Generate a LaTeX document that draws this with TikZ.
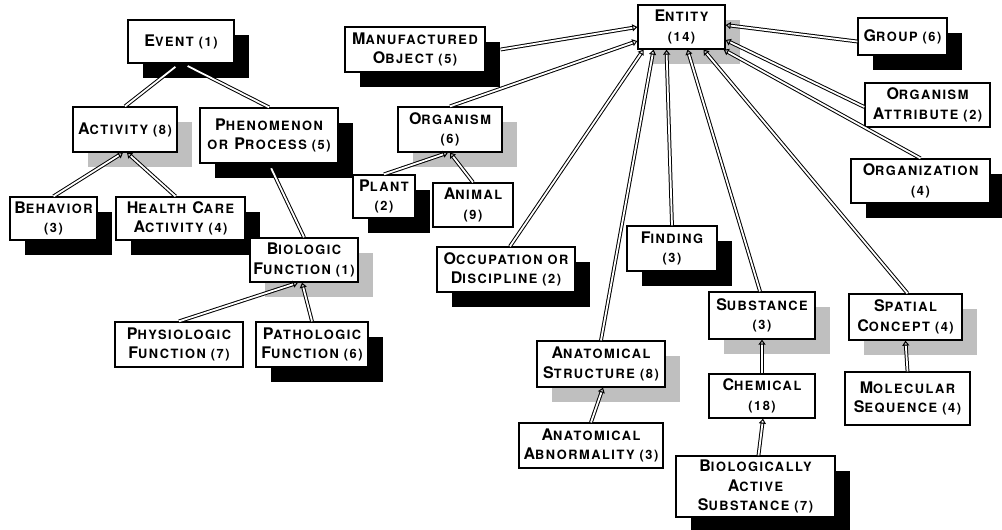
\documentclass[tikz,border=0pt]{standalone}
\usepackage{fontspec}
\setmainfont{TeX Gyre Heros}[LetterSpace=12]
\usetikzlibrary{arrows.meta,shadows}
\newcommand{\sm}[1]{{\fontsize{12.8}{13}\selectfont #1}}

\tikzset{
  box/.style={draw, fill=white, line width=1.3pt, align=center, inner sep=0pt,
    font=\fontsize{16}{19.5}\selectfont\bfseries},
  blackbox/.style={box, general shadow={fill=black, shadow xshift=15pt, shadow yshift=-15pt}},
  graybox/.style={box, general shadow={fill=black!25, shadow xshift=15pt, shadow yshift=-15pt}},
  isa/.style={double, double distance=1.8pt, line width=1pt,
    -{Triangle[open,length=5pt,width=7pt]}}
}

\begin{document}
\begin{tikzpicture}[x=1pt,y=-1pt]
  \useasboundingbox (0,0) rectangle (1002,530);
  % event side
  \node[blackbox, minimum width=106pt, minimum height=43pt] (event) at (181,41.5) {E\sm{VENT (1)}};
  \node[graybox,  minimum width=104pt, minimum height=45pt] (act)   at (125,129.5) {A\sm{CTIVITY (8)}};
  \node[blackbox, minimum width=138pt, minimum height=55pt] (phen)  at (269,135.5) {P\sm{HENOMENON}\\\sm{OR} P\sm{ROCESS (5)}};
  \node[blackbox, minimum width=87pt,  minimum height=43pt] (beh)   at (53.5,218.5) {B\sm{EHAVIOR}\\\sm{(3)}};
  \node[blackbox, minimum width=129pt, minimum height=43pt] (hca)   at (180.5,218.5) {H\sm{EALTH} C\sm{ARE}\\A\sm{CTIVITY (4)}};
  \node[graybox,  minimum width=108pt, minimum height=44pt] (bio)   at (304,260) {B\sm{IOLOGIC}\\F\sm{UNCTION (1)}};
  \node[box,      minimum width=128pt, minimum height=45pt] (phys)  at (179,344.5) {P\sm{HYSIOLOGIC}\\F\sm{UNCTION (7)}};
  \node[blackbox, minimum width=112pt, minimum height=45pt] (path)  at (312,344.5) {P\sm{ATHOLOGIC}\\F\sm{UNCTION (6)}};
  % entity side
  \node[blackbox, minimum width=140pt, minimum height=45pt] (manu)  at (415,49.5) {M\sm{ANUFACTURED}\\O\sm{BJECT (5)}};
  \node[graybox,  minimum width=104pt, minimum height=45pt] (org)   at (450,129.5) {O\sm{RGANISM}\\\sm{(6)}};
  \node[blackbox, minimum width=62pt,  minimum height=43pt] (plant) at (384,196.5) {P\sm{LANT}\\\sm{(2)}};
  \node[box,      minimum width=80pt,  minimum height=44pt] (animal) at (473,205) {A\sm{NIMAL}\\\sm{(9)}};
  \node[graybox,  minimum width=87pt,  minimum height=44pt] (entity) at (681.5,27) {E\sm{NTITY}\\\sm{(14)}};
  \node[blackbox, minimum width=89pt,  minimum height=37pt] (group) at (902.5,36.5) {G\sm{ROUP (6)}};
  \node[box,      minimum width=125pt, minimum height=44pt] (orgattr) at (927.5,105) {O\sm{RGANISM}\\A\sm{TTRIBUTE (2)}};
  \node[blackbox, minimum width=139pt, minimum height=44pt] (orgz)  at (920.5,181) {O\sm{RGANIZATION}\\\sm{(4)}};
  \node[blackbox, minimum width=138pt, minimum height=45pt] (occ)   at (506,269.5) {O\sm{CCUPATION OR}\\D\sm{ISCIPLINE (2)}};
  \node[blackbox, minimum width=90pt,  minimum height=45pt] (find)  at (672,248.5) {F\sm{INDING}\\\sm{(3)}};
  \node[graybox,  minimum width=128pt, minimum height=46pt] (anat)  at (601,364) {A\sm{NATOMICAL}\\S\sm{TRUCTURE (8)}};
  \node[box,      minimum width=144pt, minimum height=45pt] (abn)   at (591,445.5) {A\sm{NATOMICAL}\\A\sm{BNORMALITY (3)}};
  \node[graybox,  minimum width=106pt, minimum height=47pt] (subst) at (762,315.5) {S\sm{UBSTANCE}\\\sm{(3)}};
  \node[box,      minimum width=106pt, minimum height=44pt] (chem)  at (762,396) {C\sm{HEMICAL}\\\sm{(18)}};
  \node[blackbox, minimum width=159pt, minimum height=61pt] (bas)   at (755.5,486.5) {B\sm{IOLOGICALLY}\\A\sm{CTIVE}\\S\sm{UBSTANCE (7)}};
  \node[graybox,  minimum width=113pt, minimum height=46pt] (spat)  at (905.5,317) {S\sm{PATIAL}\\C\sm{ONCEPT (4)}};
  \node[box,      minimum width=125pt, minimum height=53pt] (molec) at (907.5,398.5) {M\sm{OLECULAR}\\S\sm{EQUENCE (4)}};
  %
  \draw[isa] (act.north) -- ([xshift=-1.5pt]event.south);
  \draw[isa] (phen.north) -- ([xshift=2pt]event.south);
  \draw[isa] (beh.north) -- ([xshift=-2pt]act.south);
  \draw[isa] ([xshift=-5pt]hca.north) -- ([xshift=2pt]act.south);
  \draw[isa] (bio.north) -- (phen.south);
  \draw[isa] (phys.north) -- ([xshift=-6pt]bio.south);
  \draw[isa] (path.north) -- ([xshift=-2pt]bio.south);
  \draw[isa] ([xshift=15pt]manu.east) -- (entity.west);
  \draw[isa] (org.north) -- ([yshift=-14pt]entity.west);
  \draw[isa] (plant.north) -- ([xshift=-2pt]org.south);
  \draw[isa] (animal.north) -- (org.south);
  \draw[isa] ([xshift=4pt]occ.north) -- ([xshift=-38pt]entity.south);
  \draw[isa] (anat.north) -- ([xshift=-28pt]entity.south);
  \draw[isa] (find.north) -- ([xshift=-15pt]entity.south);
  \draw[isa] ([xshift=-2pt]subst.north) -- ([xshift=6pt]entity.south);
  \draw[isa] ([xshift=2pt]spat.north) -- ([xshift=22pt]entity.south);
  \draw[isa] (orgz.north) -- ([xshift=-2pt]entity.south east);
  \draw[isa] ([yshift=-2pt]orgattr.west) -- ([yshift=-13pt]entity.east);
  \draw[isa] ([yshift=-5pt]group.west) -- ([yshift=2pt]entity.east);
  \draw[isa] (abn.north) -- ([xshift=2pt]anat.south);
  \draw[isa] (chem.north) -- (subst.south);
  \draw[isa] ([xshift=3pt]bas.north) -- ([xshift=1pt]chem.south);
  \draw[isa] (molec.north) -- (spat.south);
\end{tikzpicture}
\end{document}
